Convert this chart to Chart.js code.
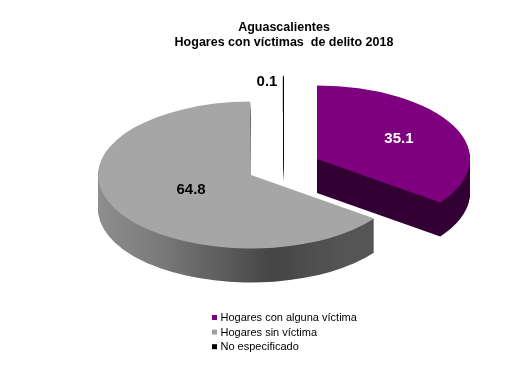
<!DOCTYPE html>
<html><head><meta charset="utf-8">
<script src="https://cdn.jsdelivr.net/npm/chart.js@4.4.1/dist/chart.umd.min.js"></script>
<style>html,body{margin:0;padding:0;background:#fff}canvas{display:block}</style>
</head><body>
<canvas id="c" width="512" height="372"></canvas>
<script>
// ---- data ----
const categories = ['Hogares con alguna víctima', 'Hogares sin víctima', 'No especificado'];
const values = [35.1, 64.8, 0.1];
const valueLabels = ['35.1', '64.8', '0.1'];
const titleLines = ['Aguascalientes', 'Hogares con víctimas  de delito 2018'];

// ---- style ----
const topColors = ['#7f007f', '#a6a6a6', '#000000'];
const legendColors = ['#7f007f', '#a0a0a0', '#000000'];
const TILT = 0.48, DEPTH = 34, EXPLODE = 37, RADIUS = 153;
const FONT = '"Liberation Sans", Arial, Helvetica, sans-serif';

function sideFill(ctx, i, cx) {
  if (i === 0) return '#330033';
  if (i === 2) return '#111111';
  const g = ctx.createLinearGradient(cx - RADIUS - EXPLODE, 0, cx + RADIUS * 0.6, 0);
  g.addColorStop(0, '#9a9a9a');
  g.addColorStop(0.35, '#7a7a7a');
  g.addColorStop(0.75, '#454545');
  g.addColorStop(1, '#555555');
  return g;
}

function explodeShift(a) {
  const m = (a.startAngle + a.endAngle) / 2;
  return [Math.cos(m) * EXPLODE, Math.sin(m) * EXPLODE];
}

const pie3d = {
  id: 'pie3d',
  beforeDatasetsDraw(chart) {
    const ctx = chart.ctx;
    const arcs = chart.getDatasetMeta(0).data;
    const cx = arcs[0].x, cy = arcs[0].y;
    const drawArc = (a, dy, fill) => {
      const [ox, oy] = explodeShift(a);
      const p = Object.create(a);
      p.options = Object.assign({}, a.options, {backgroundColor: fill, borderWidth: 0, offset: 0});
      ctx.save();
      ctx.translate(ox, cy + oy * TILT + dy);
      ctx.scale(1, TILT);
      ctx.translate(0, -cy);
      a.draw.call(p, ctx);
      ctx.restore();
    };
    for (let d = DEPTH; d >= 1; d--) {
      arcs.forEach((a, i) => drawArc(a, d, sideFill(ctx, i, cx)));
    }
    arcs.forEach((a, i) => drawArc(a, 0, topColors[i]));
    return false;
  },
  afterDraw(chart) {
    const ctx = chart.ctx;
    const arcs = chart.getDatasetMeta(0).data;
    const cy = arcs[0].y;
    const fracs = [0.6, 0.44, 1.0];
    ctx.save();
    ctx.font = 'bold 15px ' + FONT;
    ctx.textBaseline = 'middle';
    arcs.forEach((a, i) => {
      const m = (a.startAngle + a.endAngle) / 2;
      const [ox, oy] = explodeShift(a);
      const r = a.outerRadius * fracs[i];
      const px = a.x + ox + Math.cos(m) * r;
      const py = cy + (oy + Math.sin(m) * r) * TILT;
      if (i === 2) {
        ctx.fillStyle = '#000';
        ctx.textAlign = 'right';
        ctx.fillText(valueLabels[i], px - 6, py + 6);
      } else {
        ctx.fillStyle = i === 0 ? '#ffffff' : '#000000';
        ctx.textAlign = 'center';
        ctx.fillText(valueLabels[i], px, py);
      }
    });
    // legend
    ctx.font = '11px ' + FONT;
    ctx.textAlign = 'left';
    categories.forEach((c, i) => {
      const y = 317.5 + i * 14.6;
      ctx.fillStyle = legendColors[i];
      ctx.fillRect(212, y - 2.5, 5, 5);
      ctx.fillStyle = '#000';
      ctx.fillText(c, 220.5, y + 0.5);
    });
    ctx.restore();
  }
};

new Chart(document.getElementById('c'), {
  type: 'pie',
  data: {
    labels: categories,
    datasets: [{
      data: values,
      backgroundColor: topColors,
      borderWidth: 0,
      offset: 0,
      clip: 2000
    }]
  },
  options: {
    responsive: false,
    devicePixelRatio: 1,
    animation: false,
    events: [],
    radius: RADIUS,
    layout: {padding: {left: 56, right: 0, top: 0, bottom: 88}},
    plugins: {
      legend: {display: false},
      tooltip: {enabled: false},
      title: {
        display: true,
        text: titleLines,
        color: '#000',
        font: {family: FONT, size: 12.5, weight: 'bold', lineHeight: 1.2},
        padding: {top: 20, bottom: 0}
      }
    }
  },
  plugins: [pie3d]
});
</script>
</body></html>
